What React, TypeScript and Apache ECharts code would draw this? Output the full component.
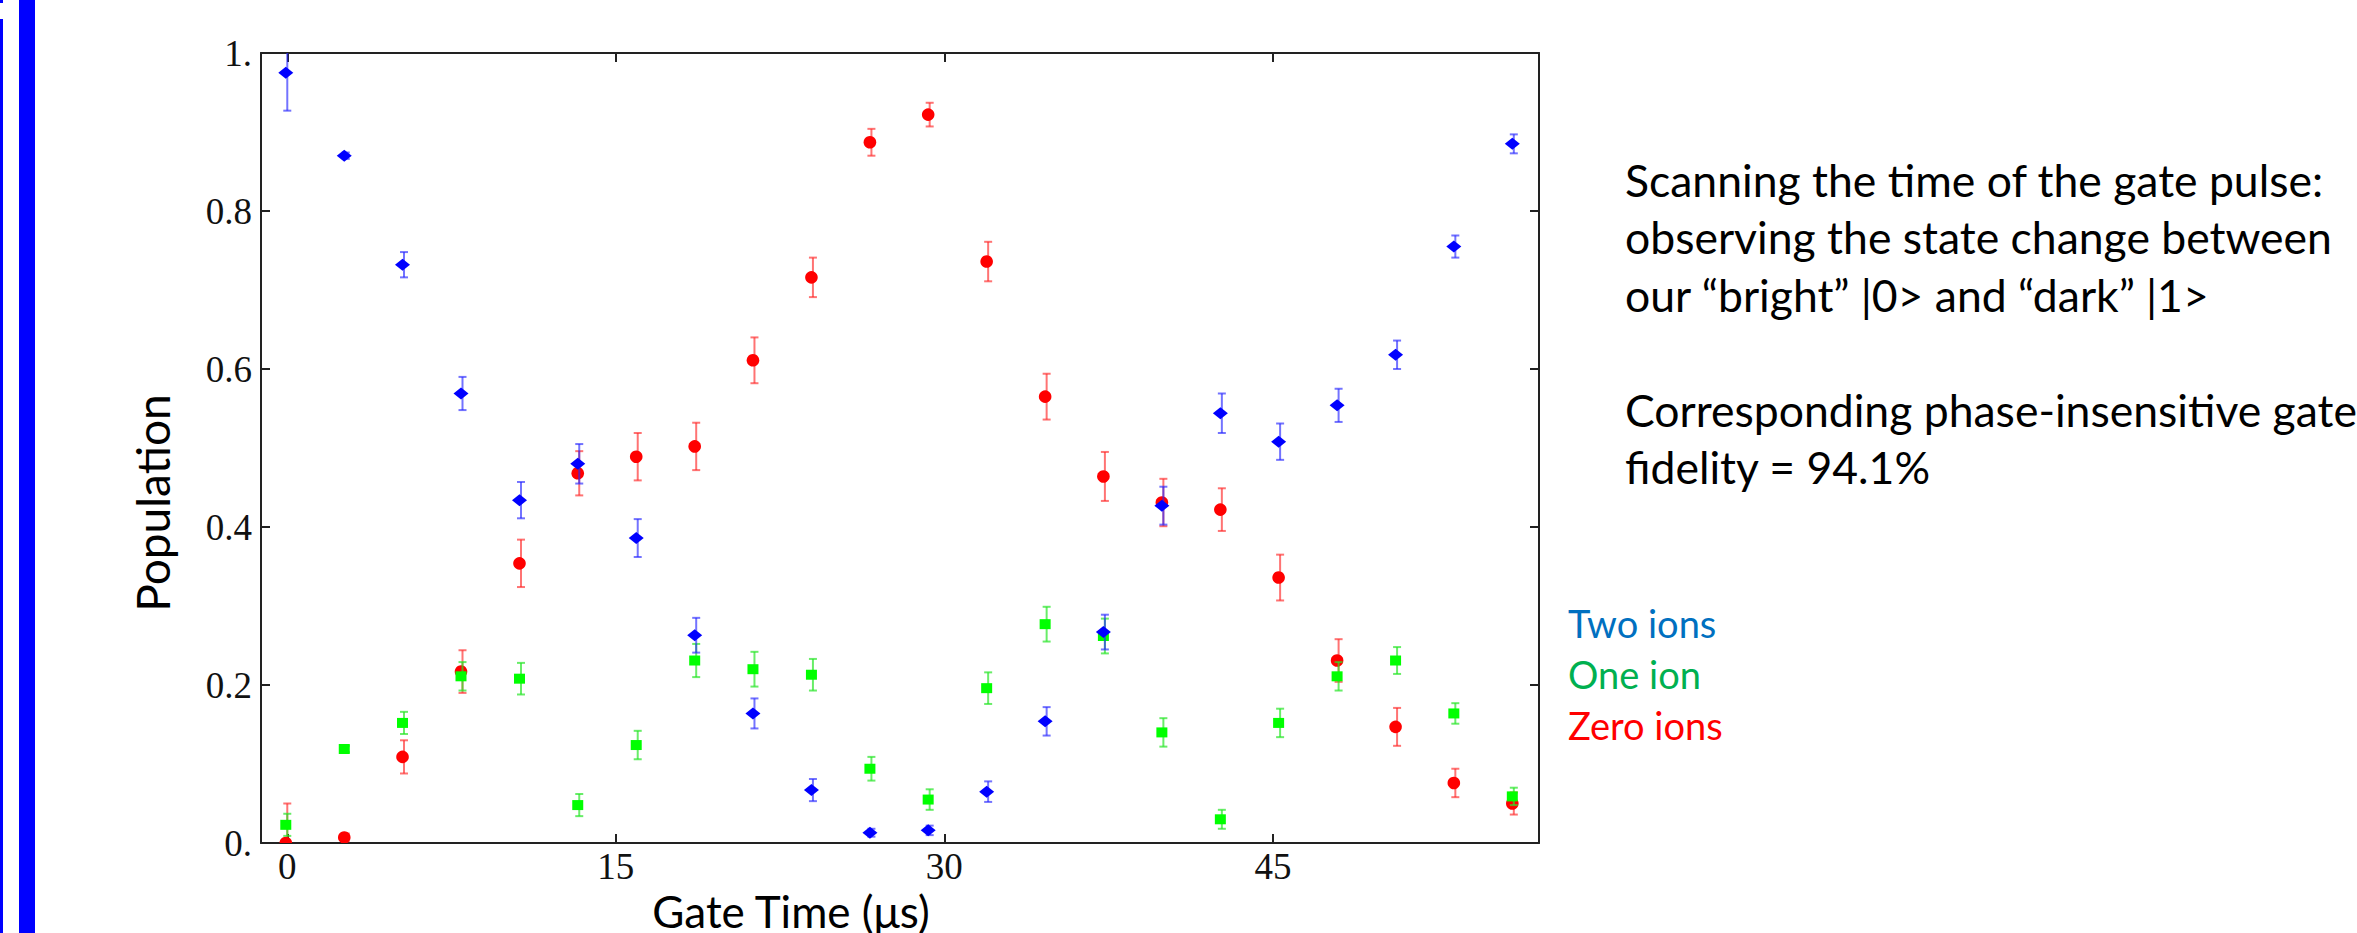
import React, { useEffect, useRef } from "react";
import * as echarts from "echarts";

// ---- data ----
const gateTimes = [0, 2.67, 5.33, 8, 10.67, 13.33, 16, 18.67, 21.33, 24, 26.67, 29.33, 32, 34.67, 37.33, 40, 42.67, 45.33, 48, 50.67, 53.33, 56];

const twoIons = [0.975, 0.870, 0.732, 0.569, 0.434, 0.480, 0.386, 0.263, 0.164, 0.067, 0.013, 0.016, 0.065, 0.154, 0.267, 0.427, 0.544, 0.508, 0.554, 0.618, 0.755, 0.885];
const twoIonsErr = [0.048, 0.004, 0.016, 0.021, 0.023, 0.025, 0.024, 0.022, 0.019, 0.014, 0.005, 0.006, 0.013, 0.018, 0.022, 0.024, 0.025, 0.023, 0.021, 0.018, 0.014, 0.012];

const oneIon = [0.023, 0.119, 0.152, 0.211, 0.208, 0.048, 0.124, 0.231, 0.220, 0.213, 0.094, 0.055, 0.196, 0.277, 0.262, 0.140, 0.030, 0.152, 0.211, 0.231, 0.164, 0.059];
const oneIonErr = [0.014, 0.004, 0.014, 0.018, 0.020, 0.014, 0.018, 0.021, 0.022, 0.020, 0.015, 0.013, 0.020, 0.022, 0.022, 0.018, 0.012, 0.018, 0.018, 0.017, 0.013, 0.011];

const zeroIons = [0.000, 0.007, 0.109, 0.217, 0.354, 0.468, 0.489, 0.502, 0.611, 0.716, 0.887, 0.922, 0.736, 0.565, 0.464, 0.431, 0.422, 0.336, 0.231, 0.147, 0.076, 0.050];
const zeroIonsErr = [0.050, 0.005, 0.021, 0.027, 0.030, 0.028, 0.030, 0.030, 0.029, 0.025, 0.017, 0.015, 0.025, 0.029, 0.031, 0.030, 0.027, 0.029, 0.027, 0.024, 0.018, 0.014];

const xTicks = [0, 15, 30, 45];
const yTicks = [0, 0.2, 0.4, 0.6, 0.8, 1];

const noteLines = [
  "Scanning the time of the gate pulse:",
  "observing the state change between",
  "our \u201cbright\u201d |0> and \u201cdark\u201d |1>",
  "",
  "Corresponding phase-insensitive gate",
  "fidelity = 94.1%",
];
const legendLabels = ["Two ions", "One ion", "Zero ions"];
const legendColors = ["#0070C0", "#00B050", "#FF0000"];
const xTitle = "Gate Time (\u03bcs)";
const yTitle = "Population";

// ---- styling ----
const W = 2357;
const H = 933;
const SANS = "Lato, 'Open Sans', sans-serif";
const SERIF = "'Liberation Serif', 'DejaVu Serif', serif";
const FRAME = "#222";

type Shape = "diamond" | "circle" | "square";

function makeRenderItem(shape: Shape, color: string, errColor: string) {
  return (params: any, api: any) => {
    const x = api.value(0);
    const y = api.value(1);
    const e = api.value(2);
    const p = api.coord([x, y]);
    const top = api.coord([x, y + e]);
    const bot = api.coord([x, y - e]);
    const cap = 4;
    const es = { stroke: errColor, lineWidth: 2 };
    const mx = p[0] - 1.5;
    const my = p[1];
    let marker: any;
    if (shape === "diamond") {
      marker = {
        type: "polygon",
        shape: { points: [[mx - 7.5, my], [mx, my - 6], [mx + 7.5, my], [mx, my + 6]] },
        style: { fill: color },
      };
    } else if (shape === "circle") {
      marker = { type: "circle", shape: { cx: mx, cy: my, r: 6.3 }, style: { fill: color } };
    } else {
      marker = { type: "rect", shape: { x: mx - 5.5, y: my - 5, width: 11, height: 10 }, style: { fill: color } };
    }
    return {
      type: "group",
      children: [
        { type: "line", shape: { x1: p[0], y1: top[1], x2: p[0], y2: bot[1] }, style: es },
        { type: "line", shape: { x1: p[0] - cap, y1: top[1], x2: p[0] + cap, y2: top[1] }, style: es },
        { type: "line", shape: { x1: p[0] - cap, y1: bot[1], x2: p[0] + cap, y2: bot[1] }, style: es },
        marker,
      ],
    };
  };
}

function seriesData(vals: number[], errs: number[]) {
  return gateTimes.map((t, i) => [t, vals[i], errs[i]]);
}

export default function App() {
  const ref = useRef<HTMLDivElement>(null);

  useEffect(() => {
    if (!ref.current) return;
    const chart = echarts.init(ref.current, undefined, { renderer: "svg" });

    const axisLine = { show: true, onZero: false, lineStyle: { color: FRAME, width: 2 } };
    const tickStyle = { color: FRAME, width: 2 };

    const noteBase = 195;
    const noteStep = 57.5;
    const noteFont = 44.5;
    const legendBase = 636;
    const legendStep = 51;
    const legendFont = 38;

    const graphics: any[] = [
      { type: "rect", shape: { x: 0, y: 19, width: 3, height: H - 19 }, style: { fill: "#0000FF" } },
      { type: "rect", shape: { x: 0, y: 0, width: 3, height: 3 }, style: { fill: "#0000FF" } },
      { type: "rect", shape: { x: 19, y: 0, width: 16, height: H }, style: { fill: "#0000FF" } },
      {
        type: "text",
        x: 791,
        y: 925 - 14,
        style: { text: xTitle, fill: "#000", font: `44px ${SANS}`, align: "center", verticalAlign: "middle" },
      },
      {
        type: "text",
        x: 152,
        y: 503,
        rotation: Math.PI / 2,
        style: { text: yTitle, fill: "#000", font: `46px ${SANS}`, align: "center", verticalAlign: "middle" },
      },
    ];
    noteLines.forEach((line, i) => {
      if (!line) return;
      graphics.push({
        type: "text",
        x: 1625,
        y: noteBase + i * noteStep - noteFont * 0.35,
        style: { text: line, fill: "#000", font: `${noteFont}px ${SANS}`, align: "left", verticalAlign: "middle" },
      });
    });
    legendLabels.forEach((label, i) => {
      graphics.push({
        type: "text",
        x: 1568,
        y: legendBase + i * legendStep - legendFont * 0.35,
        style: { text: label, fill: legendColors[i], font: `${legendFont}px ${SANS}`, align: "left", verticalAlign: "middle" },
      });
    });

    chart.setOption({
      animation: false,
      backgroundColor: "#fff",
      grid: { left: 261, right: W - 1539, top: 53, bottom: H - 843, containLabel: false, outerBoundsMode: "none" },
      xAxis: [
        {
          type: "value",
          position: "bottom",
          min: -1.2,
          max: 57.15,
          axisLine,
          axisTick: { show: true, inside: true, length: 9, customValues: xTicks, lineStyle: tickStyle },
          axisLabel: {
            show: true,
            customValues: xTicks,
            margin: 5,
            fontFamily: SERIF,
            fontSize: 37,
            color: "#111",
            formatter: (v: number) => String(v),
          },
          splitLine: { show: false },
        },
        {
          type: "value",
          position: "top",
          min: -1.2,
          max: 57.15,
          axisLine,
          axisTick: { show: true, inside: true, length: 9, customValues: xTicks, lineStyle: tickStyle },
          axisLabel: { show: false },
          splitLine: { show: false },
        },
      ],
      yAxis: [
        {
          type: "value",
          position: "left",
          min: 0,
          max: 1,
          interval: 0.2,
          axisLine,
          axisTick: { show: true, inside: true, length: 9, customValues: yTicks, lineStyle: tickStyle },
          axisLabel: {
            show: true,
            customValues: yTicks,
            margin: 9,
            fontFamily: SERIF,
            fontSize: 37,
            color: "#111",
            formatter: (v: number) => (v === 0 ? "0." : v === 1 ? "1." : v.toFixed(1)),
          },
          splitLine: { show: false },
        },
        {
          type: "value",
          position: "right",
          min: 0,
          max: 1,
          interval: 0.2,
          axisLine,
          axisTick: { show: true, inside: true, length: 9, customValues: yTicks, lineStyle: tickStyle },
          axisLabel: { show: false },
          splitLine: { show: false },
        },
      ],
      series: [
        {
          name: "Zero ions",
          type: "custom",
          clip: true,
          z: 2,
          xAxisIndex: 0,
          yAxisIndex: 0,
          encode: { x: 0, y: 1 },
          data: seriesData(zeroIons, zeroIonsErr),
          renderItem: makeRenderItem("circle", "#FF0000", "rgba(255,40,40,0.65)"),
        },
        {
          name: "One ion",
          type: "custom",
          clip: true,
          z: 3,
          xAxisIndex: 0,
          yAxisIndex: 0,
          encode: { x: 0, y: 1 },
          data: seriesData(oneIon, oneIonErr),
          renderItem: makeRenderItem("square", "#00FF00", "rgba(40,230,40,0.7)"),
        },
        {
          name: "Two ions",
          type: "custom",
          clip: true,
          z: 4,
          xAxisIndex: 0,
          yAxisIndex: 0,
          encode: { x: 0, y: 1 },
          data: seriesData(twoIons, twoIonsErr),
          renderItem: makeRenderItem("diamond", "#0000FF", "rgba(40,40,255,0.65)"),
        },
      ],
      graphic: graphics,
    });

    return () => {
      chart.dispose();
    };
  }, []);

  return (
    <div
      ref={ref}
      style={{ position: "fixed", left: 0, top: 0, width: W, height: H, background: "#fff" }}
    />
  );
}
